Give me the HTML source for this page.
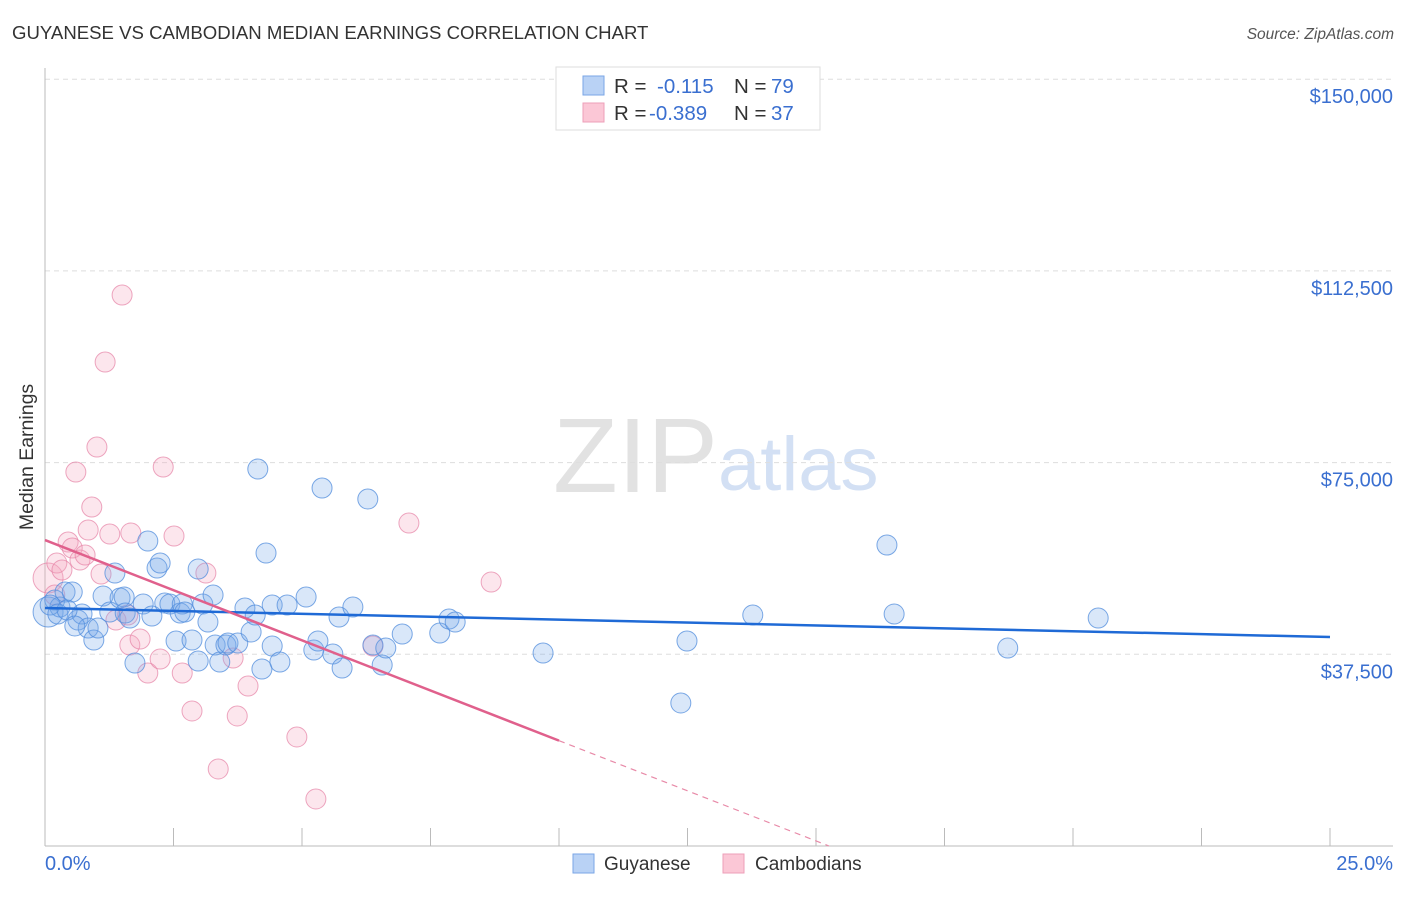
<!DOCTYPE html>
<html><head><meta charset="utf-8"><style>
body{margin:0;background:#fff;font-family:"Liberation Sans",sans-serif;}
svg text{font-family:"Liberation Sans",sans-serif;}
</style></head><body>
<svg id="chart" width="1406" height="892" viewBox="0 0 1406 892" xmlns="http://www.w3.org/2000/svg">
<text x="12" y="39" font-size="18.6" fill="#333">GUYANESE VS CAMBODIAN MEDIAN EARNINGS CORRELATION CHART</text>
<text x="1394" y="39" font-size="15.5" font-style="italic" fill="#555" text-anchor="end">Source: ZipAtlas.com</text>
<text transform="translate(33,457) rotate(-90)" font-size="19.5" fill="#333" text-anchor="middle">Median Earnings</text>
<g>
<text x="553" y="492" font-size="106" font-family="Liberation Serif,serif" fill="#e2e2e2">ZIP</text>
<text x="718" y="490" font-size="76" fill="#d3e0f4">atlas</text>
</g>
<g id="grid"></g>
<g id="axes"></g>
<g id="marks"></g>
<g>
<rect x="556" y="67" width="264" height="63" fill="#fff" stroke="#ddd"/>
<rect x="583" y="76" width="21" height="19" fill="#b9d2f5" stroke="#7aa6e6"/>
<rect x="583" y="103" width="21" height="19" fill="#fbc7d6" stroke="#ee9fb8"/>
<text x="614" y="93" font-size="20.5" fill="#333">R =</text>
<text x="657" y="93" font-size="20.5" fill="#3a6fd0">-0.115</text>
<text x="734" y="93" font-size="20.5" fill="#333">N =</text>
<text x="771" y="93" font-size="20.5" fill="#3a6fd0">79</text>
<text x="614" y="120" font-size="20.5" fill="#333">R =</text>
<text x="649" y="120" font-size="20.5" fill="#3a6fd0">-0.389</text>
<text x="734" y="120" font-size="20.5" fill="#333">N =</text>
<text x="771" y="120" font-size="20.5" fill="#3a6fd0">37</text>
</g>
<g>
<rect x="573" y="854" width="21" height="19" fill="#b9d2f5" stroke="#7aa6e6"/>
<text x="604" y="870" font-size="19" fill="#333">Guyanese</text>
<rect x="723" y="854" width="21" height="19" fill="#fbc7d6" stroke="#ee9fb8"/>
<text x="755" y="870" font-size="19" fill="#333">Cambodians</text>
</g>
</svg>
<script>
const xTickLabels=["0.0%","25.0%"];
const yTicks=[37500,75000,112500,150000];
const yTickLabels=["$37,500","$75,000","$112,500","$150,000"];
const blueX=[0.06,0.19,0.29,0.39,0.53,0.64,0.72,0.84,0.95,1.03,1.13,1.26,1.36,1.46,1.54,1.56,1.75,1.91,2.00,2.08,2.18,2.24,2.33,2.43,2.55,2.63,2.67,2.86,2.98,2.98,3.07,3.17,3.27,3.31,3.40,3.52,3.56,3.75,3.89,4.01,4.09,4.14,4.22,4.30,4.42,4.42,4.57,4.71,5.08,5.23,5.31,5.39,5.60,5.72,5.78,5.99,6.28,6.38,6.56,6.63,6.95,7.68,7.86,7.98,9.69,12.37,12.49,13.77,16.38,16.52,18.73,20.49,0.10,0.25,0.43,0.58,1.65,2.72];
const blueY=[45770,48118,46748,49682,49682,44206,45379,42641,40294,42641,48900,45770,53399,48509,48705,45575,35795,47335,59658,44988,54377,55355,47531,47335,40098,45575,47335,40294,54181,36186,47335,43814,49096,39316,35990,39316,39707,39707,46553,41858,45184,73741,34621,57311,47140,39120,35990,47140,48704,38338,40098,70025,37555,44792,34817,46748,67873,39316,35404,38729,41467,41663,44401,43814,37751,27971,40098,45184,58876,45379,38729,44597,47140,45379,46162,43032,44597,45770];
const pinkX=[0.06,0.19,0.23,0.33,0.45,0.53,0.60,0.68,0.78,0.84,0.91,1.01,1.09,1.17,1.26,1.38,1.50,1.61,1.65,1.67,1.85,2.00,2.24,2.30,2.51,2.67,2.86,3.13,3.37,3.66,3.74,3.95,4.90,5.27,6.38,7.08,8.68];
const pinkY=[52421,49096,55355,53986,59462,58289,73154,55942,56920,61810,66308,78044,53203,94670,61027,44206,107776,45184,39316,61223,40489,33839,36577,74132,60636,33839,26406,53399,15061,36773,25428,31296,21320,9193,39120,63179,51638];
const blueTrend=[46550,40880];
const pinkTrend=[59850,-3924];
const NS="http://www.w3.org/2000/svg";
const X0=45,X1=1330,Y0=846,PXY=191.7/37500;
const sx=v=>X0+(v/25)*(X1-X0);
const sy=v=>Y0-v*PXY;
function mk(t,a,p){const e=document.createElementNS(NS,t);for(const k in a)e.setAttribute(k,a[k]);p.appendChild(e);return e;}
const grid=document.getElementById('grid'),axes=document.getElementById('axes'),marks=document.getElementById('marks');
yTicks.forEach((v,i)=>{
 const l=mk('line',{x1:X0,x2:1393,y1:sy(v),y2:sy(v),stroke:'#ddd','stroke-dasharray':'5,4'},grid);
 
 
 const t=mk('text',{x:1393,y:sy(v)+24,'font-size':20,fill:'#3a6fd0','text-anchor':'end'},axes);
 t.textContent=yTickLabels[i];
 
 
});
const ya=mk('line',{x1:X0,x2:X0,y1:68,y2:Y0,stroke:'#bbb'},axes);


const xa=mk('line',{x1:X0,x2:1393,y1:Y0,y2:Y0,stroke:'#bbb'},axes);


for(let i=1;i<=10;i++){const tk=mk('line',{x1:sx(i*2.5),x2:sx(i*2.5),y1:828,y2:Y0,stroke:'#bbb'},axes);
 
 }
[[X0,'start'],[1393,'end']].forEach((p,i)=>{const t=mk('text',{x:p[0],y:870,'font-size':20,fill:'#3a6fd0','text-anchor':p[1]},axes);t.textContent=xTickLabels[i];
 
 });
function dots(xs,ys,fill,stroke,name){xs.forEach((x,i)=>{const r=i===0?15:10;
 const c=mk('circle',{cx:sx(x),cy:sy(ys[i]),r:r,fill:fill,stroke:stroke,'stroke-width':1},marks);
 
 });}
dots(pinkX,pinkY,'rgba(243,165,190,0.28)','rgba(230,130,165,0.7)','cambodian-point');
dots(blueX,blueY,'rgba(120,168,235,0.28)','rgba(80,140,220,0.75)','guyanese-point');
const bt=mk('line',{x1:sx(0),y1:sy(blueTrend[0]),x2:sx(25),y2:sy(blueTrend[1]),stroke:'#1f6ad6','stroke-width':2.5},marks);


const pf=x=>pinkTrend[0]+pinkTrend[1]*x;
const pt=mk('line',{x1:sx(0),y1:sy(pf(0)),x2:sx(10),y2:sy(pf(10)),stroke:'#e0608c','stroke-width':2.5},marks);


const xe=-pinkTrend[0]/pinkTrend[1];
const pd=mk('line',{x1:sx(10),y1:sy(pf(10)),x2:sx(xe),y2:sy(0),stroke:'#e88aa8','stroke-width':1.2,'stroke-dasharray':'6,5'},marks);


</script>
</body></html>
